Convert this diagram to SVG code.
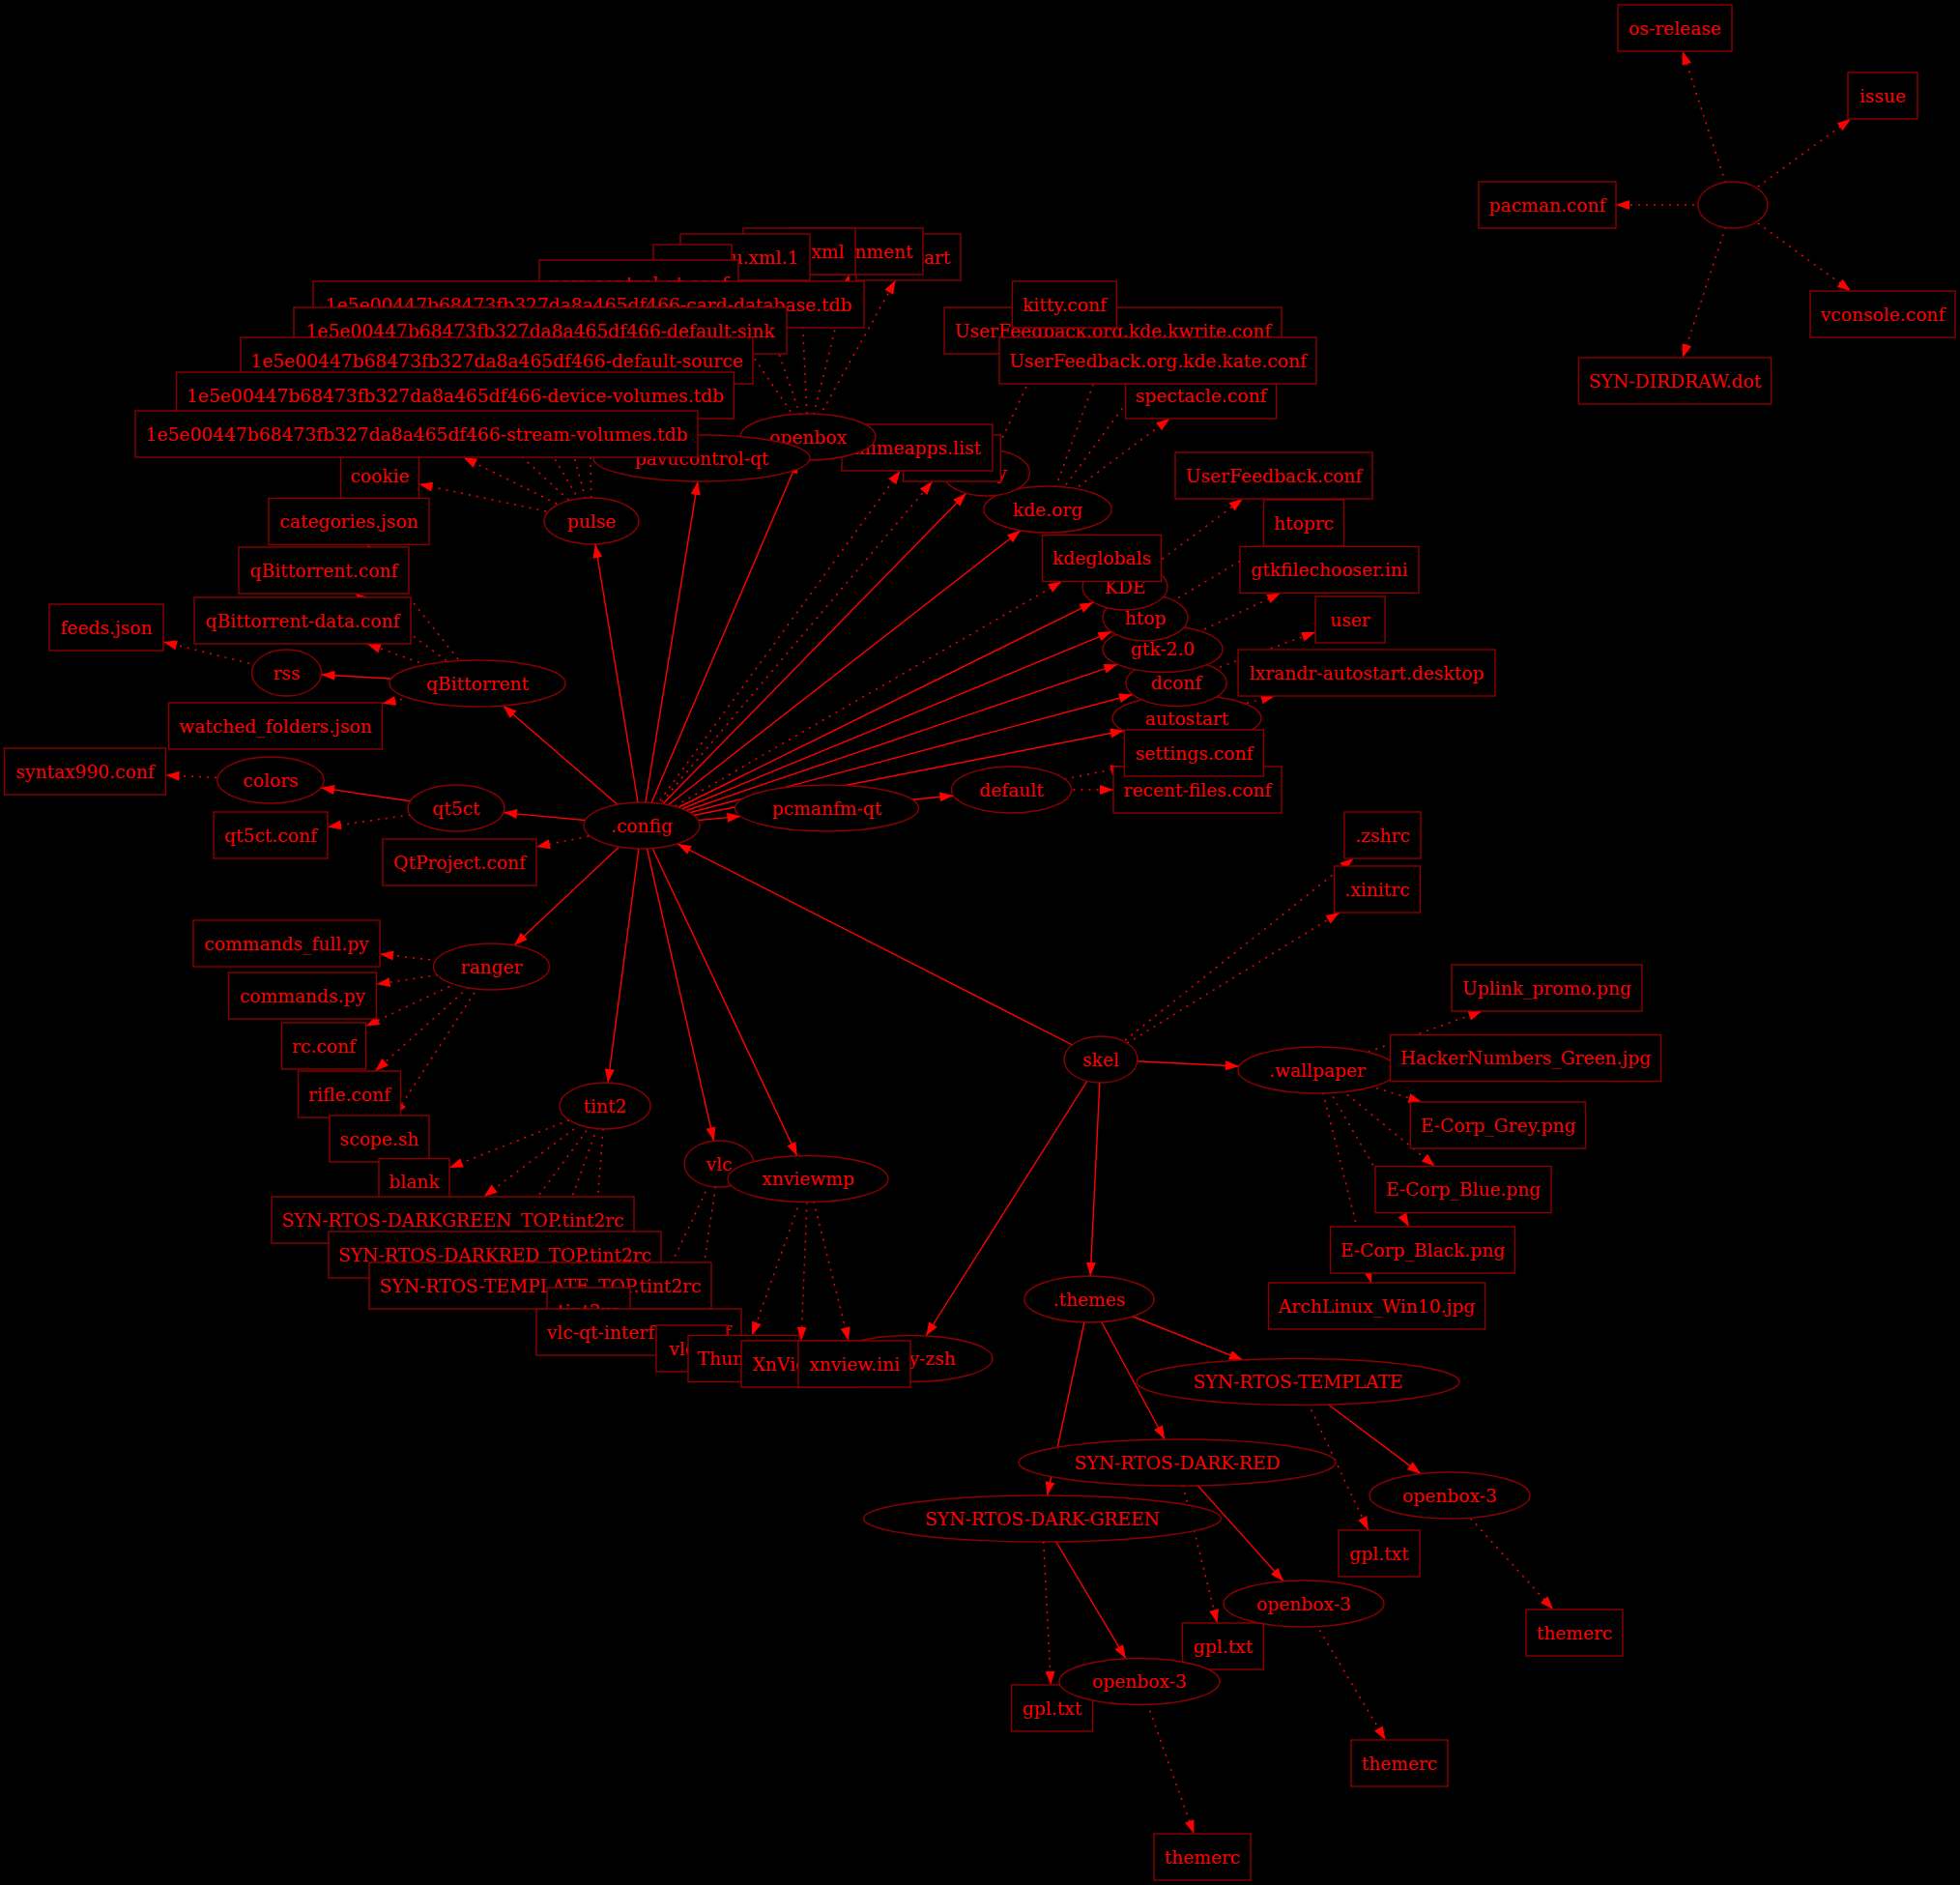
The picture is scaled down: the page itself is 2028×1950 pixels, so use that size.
<svg xmlns="http://www.w3.org/2000/svg" width="2028" height="1950" viewBox="0 0 2028 1950">
<style>
.n{fill:#000;stroke:#8b0000;stroke-width:1.4}
.t{fill:#f00;font-family:"DejaVu Serif",serif;font-size:18.67px;text-anchor:middle}
.e{fill:none;stroke:#f00;stroke-width:1.4;marker-end:url(#ah)}
.d{stroke-dasharray:2 6;stroke-width:1.5}
</style>
<defs>
<marker id="ah" markerUnits="userSpaceOnUse" markerWidth="15" markerHeight="11" refX="14" refY="5" orient="auto" overflow="visible"><path d="M0,0 L14,5 L0,10 z" fill="#f00"/></marker>
</defs>
<rect width="2028" height="1950" fill="#000"/>
<g id="connectors">
<path class="e d" d="M1793,212 L1740.9,53"/>
<path class="e d" d="M1793,212 L1915,123"/>
<path class="e d" d="M1793,212 L1672,212"/>
<path class="e d" d="M1793,212 L1915,301"/>
<path class="e d" d="M1793,212 L1741,370"/>
<path class="e" d="M1139,1096 L701,873"/>
<path class="e d" d="M1139,1096 L1400.4,888"/>
<path class="e d" d="M1139,1096 L1386,944"/>
<path class="e" d="M1139,1096 L1282,1103"/>
<path class="e" d="M1139,1096 L1128.2,1320"/>
<path class="e" d="M1139,1096 L958,1382"/>
<path class="e" d="M664,854 L521,840.6"/>
<path class="e d" d="M664,854 L555,876"/>
<path class="e" d="M664,854 L532,978"/>
<path class="e" d="M664,854 L629,1120"/>
<path class="e" d="M664,854 L738.6,1180.3"/>
<path class="e" d="M664,854 L824.8,1195.7"/>
<path class="e" d="M664,854 L766.5,844.4"/>
<path class="e" d="M664,854 L1163,755.8"/>
<path class="e" d="M664,854 L1172,718.5"/>
<path class="e" d="M664,854 L1156.3,687.3"/>
<path class="e" d="M664,854 L1150.4,653.3"/>
<path class="e" d="M664,854 L1131.4,623.1"/>
<path class="e d" d="M664,854 L1098.7,601.5"/>
<path class="e" d="M664,854 L1056,548.7"/>
<path class="e" d="M664,854 L999.7,510.3"/>
<path class="e d" d="M664,854 L931.5,487"/>
<path class="e d" d="M664,854 L964.7,498"/>
<path class="e" d="M664,854 L825.8,475.7"/>
<path class="e" d="M664,854 L722,498"/>
<path class="e" d="M664,854 L616,563"/>
<path class="e" d="M664,854 L520.5,730"/>
<path class="e d" d="M612,539 L433.5,500.7"/>
<path class="e d" d="M612,539 L479.3,473"/>
<path class="e d" d="M612,539 L497,433"/>
<path class="e d" d="M612,539 L528,397"/>
<path class="e d" d="M612,539 L565.5,366"/>
<path class="e d" d="M612,539 L609.3,339"/>
<path class="e d" d="M836,452 L732.9,301"/>
<path class="e d" d="M836,452 L779.4,290"/>
<path class="e d" d="M836,452 L828.1,284"/>
<path class="e d" d="M836,452 L878.4,284"/>
<path class="e d" d="M836,452 L926.6,290"/>
<path class="e d" d="M726,474 L669.6,317"/>
<path class="e" d="M494,707 L332.4,698"/>
<path class="e d" d="M494,707 L367.6,614"/>
<path class="e d" d="M494,707 L379.8,666"/>
<path class="e d" d="M494,707 L395.5,727.7"/>
<path class="e d" d="M494,707 L380,563.5"/>
<path class="e d" d="M296.5,696 L169,663.9"/>
<path class="e" d="M472,836 L332,814.9"/>
<path class="e d" d="M472,836 L339,855.4"/>
<path class="e d" d="M280,807 L171.5,802"/>
<path class="e d" d="M508.5,1000 L393,987"/>
<path class="e d" d="M508.5,1000 L389.5,1018.3"/>
<path class="e d" d="M508.5,1000 L378.5,1061.4"/>
<path class="e d" d="M508.5,1000 L388.2,1108"/>
<path class="e d" d="M508.5,1000 L408.1,1154"/>
<path class="e d" d="M626,1144 L465,1208"/>
<path class="e d" d="M626,1144 L500.5,1238"/>
<path class="e d" d="M626,1144 L529.8,1274"/>
<path class="e d" d="M626,1144 L567.6,1306"/>
<path class="e d" d="M626,1144 L611,1332"/>
<path class="e d" d="M744,1204 L672.4,1354"/>
<path class="e d" d="M744,1204 L719,1371"/>
<path class="e d" d="M836,1219.5 L778.1,1381.5"/>
<path class="e d" d="M836,1219.5 L829,1387"/>
<path class="e d" d="M836,1219.5 L878,1387"/>
<path class="e" d="M855.5,836 L986.5,823"/>
<path class="e d" d="M1046.5,817 L1163.5,793.5"/>
<path class="e d" d="M1046.5,817 L1152,817"/>
<path class="e d" d="M1228,743 L1319,720"/>
<path class="e d" d="M1217,706.5 L1361,654"/>
<path class="e d" d="M1203,671.5 L1325,613.5"/>
<path class="e d" d="M1185,639 L1308.8,565"/>
<path class="e d" d="M1164,607 L1285.9,516"/>
<path class="e d" d="M1084,527 L1142.7,366"/>
<path class="e d" d="M1084,527 L1180.2,397"/>
<path class="e d" d="M1084,527 L1210.3,433"/>
<path class="e d" d="M1020.5,489 L1090.3,339"/>
<path class="e d" d="M1363,1107 L1533.5,1046"/>
<path class="e d" d="M1363,1107 L1438.5,1102.6"/>
<path class="e d" d="M1363,1107 L1471.3,1140"/>
<path class="e d" d="M1363,1107 L1484.7,1206.5"/>
<path class="e d" d="M1363,1107 L1458,1269"/>
<path class="e d" d="M1363,1107 L1418.5,1327"/>
<path class="e" d="M1127,1344 L1286,1407"/>
<path class="e" d="M1127,1344 L1205.1,1489"/>
<path class="e" d="M1127,1344 L1083.6,1547"/>
<path class="e" d="M1343,1429.5 L1470,1524.6"/>
<path class="e d" d="M1343,1429.5 L1415.7,1583"/>
<path class="e" d="M1218,1513 L1328,1635.8"/>
<path class="e d" d="M1218,1513 L1259.5,1679"/>
<path class="e" d="M1078.5,1571 L1164.9,1715.8"/>
<path class="e d" d="M1078.5,1571 L1087.3,1743"/>
<path class="e d" d="M1500,1547 L1607.2,1665"/>
<path class="e d" d="M1349,1659 L1433.6,1800"/>
<path class="e d" d="M1179,1739.5 L1235.4,1897"/>
</g>
<g id="nodes">
<g id="n-root"><ellipse class="n" cx="1793" cy="212" rx="36" ry="24"/></g>
<g id="n-osrelease"><rect class="n" x="1674" y="5" width="118" height="48"/><text class="t" x="1733" y="35.5">os-release</text></g>
<g id="n-issue"><rect class="n" x="1912" y="75" width="72" height="48"/><text class="t" x="1948" y="105.5">issue</text></g>
<g id="n-pacman"><rect class="n" x="1530" y="188" width="142" height="48"/><text class="t" x="1601" y="218.5">pacman.conf</text></g>
<g id="n-vconsole"><rect class="n" x="1873" y="301" width="150" height="48"/><text class="t" x="1948" y="331.5">vconsole.conf</text></g>
<g id="n-dirdraw"><rect class="n" x="1633.5" y="370" width="199" height="48"/><text class="t" x="1733" y="400.5">SYN-DIRDRAW.dot</text></g>

<g id="n-skel"><ellipse class="n" cx="1139" cy="1096" rx="38" ry="24"/><text class="t" x="1139" y="1102.5">skel</text></g>
<g id="n-config"><ellipse class="n" cx="664" cy="854" rx="60" ry="24"/><text class="t" x="664" y="860.5">.config</text></g>
<g id="n-ohmyzsh"><ellipse class="n" cx="943" cy="1405.5" rx="84" ry="24"/><text class="t" x="938" y="1412">.oh-my-zsh</text></g>
<g id="n-themes"><ellipse class="n" cx="1127" cy="1344" rx="67" ry="24"/><text class="t" x="1127" y="1350.5">.themes</text></g>
<g id="n-wallpaper"><ellipse class="n" cx="1363" cy="1107" rx="82" ry="24"/><text class="t" x="1363" y="1113.5">.wallpaper</text></g>
<g id="n-xinitrc"><rect class="n" x="1380.5" y="896" width="89" height="48"/><text class="t" x="1425" y="926.5">.xinitrc</text></g>
<g id="n-zshrc"><rect class="n" x="1391" y="840" width="79" height="48"/><text class="t" x="1430.5" y="870.5">.zshrc</text></g>

<g id="n-autostart"><ellipse class="n" cx="1228" cy="743" rx="77" ry="24"/><text class="t" x="1228" y="749.5">autostart</text></g>
<g id="n-dconf"><ellipse class="n" cx="1217" cy="706.5" rx="52" ry="24"/><text class="t" x="1217" y="713">dconf</text></g>
<g id="n-gtk2"><ellipse class="n" cx="1203" cy="671.5" rx="62" ry="24"/><text class="t" x="1203" y="678">gtk-2.0</text></g>
<g id="n-htop"><ellipse class="n" cx="1185" cy="639" rx="44" ry="24"/><text class="t" x="1185" y="645.5">htop</text></g>
<g id="n-KDE"><ellipse class="n" cx="1164" cy="607" rx="44" ry="24"/><text class="t" x="1164" y="613.5">KDE</text></g>
<g id="n-kdeglobals"><rect class="n" x="1078.5" y="553.5" width="123" height="48"/><text class="t" x="1140" y="584">kdeglobals</text></g>
<g id="n-kdeorg"><ellipse class="n" cx="1084" cy="527" rx="66" ry="24"/><text class="t" x="1084" y="533.5">kde.org</text></g>
<g id="n-kitty"><ellipse class="n" cx="1020.5" cy="489" rx="45" ry="24"/><text class="t" x="1020.5" y="495.5">kitty</text></g>
<g id="n-hidden"><rect class="n" x="934.5" y="450" width="101" height="48"/></g>
<g id="n-mimeapps"><rect class="n" x="871" y="439" width="156" height="48"/><text class="t" x="949" y="469.5">mimeapps.list</text></g>
<g id="n-openbox"><ellipse class="n" cx="836" cy="452" rx="70" ry="24"/><text class="t" x="836" y="458.5">openbox</text></g>
<g id="n-pavucontrol"><ellipse class="n" cx="726" cy="474" rx="112" ry="24"/><text class="t" x="726" y="480.5">pavucontrol-qt</text></g>
<g id="n-pcmanfm"><ellipse class="n" cx="855.5" cy="836" rx="95" ry="24"/><text class="t" x="855.5" y="842.5">pcmanfm-qt</text></g>
<g id="n-pulse"><ellipse class="n" cx="612" cy="539" rx="49" ry="24"/><text class="t" x="612" y="545.5">pulse</text></g>
<g id="n-qbittorrent"><ellipse class="n" cx="494" cy="707" rx="91" ry="24"/><text class="t" x="494" y="713.5">qBittorrent</text></g>
<g id="n-qt5ct"><ellipse class="n" cx="472" cy="836" rx="50" ry="24"/><text class="t" x="472" y="842.5">qt5ct</text></g>
<g id="n-qtproject"><rect class="n" x="396" y="868" width="159" height="48"/><text class="t" x="475.5" y="898.5">QtProject.conf</text></g>
<g id="n-ranger"><ellipse class="n" cx="508.5" cy="1000" rx="60" ry="24"/><text class="t" x="508.5" y="1006.5">ranger</text></g>
<g id="n-tint2"><ellipse class="n" cx="626" cy="1144" rx="47" ry="24"/><text class="t" x="626" y="1150.5">tint2</text></g>
<g id="n-vlc"><ellipse class="n" cx="744" cy="1204" rx="36" ry="24"/><text class="t" x="744" y="1210.5">vlc</text></g>
<g id="n-xnviewmp"><ellipse class="n" cx="836" cy="1219.5" rx="83" ry="24"/><text class="t" x="836" y="1226">xnviewmp</text></g>

<g id="n-lxrandr"><rect class="n" x="1281" y="672" width="266" height="48"/><text class="t" x="1414" y="702.5">lxrandr-autostart.desktop</text></g>
<g id="n-user"><rect class="n" x="1361" y="617" width="72" height="48"/><text class="t" x="1397" y="647.5">user</text></g>
<g id="n-gtkfc"><rect class="n" x="1283" y="565.5" width="185" height="48"/><text class="t" x="1375.5" y="596">gtkfilechooser.ini</text></g>
<g id="n-htoprc"><rect class="n" x="1307.5" y="517" width="83" height="48"/><text class="t" x="1349" y="547.5">htoprc</text></g>
<g id="n-ufconf"><rect class="n" x="1216" y="468" width="204" height="48"/><text class="t" x="1318" y="498.5">UserFeedback.conf</text></g>
<g id="n-spectacle"><rect class="n" x="1164.5" y="385" width="156" height="48"/><text class="t" x="1242.5" y="415.5">spectacle.conf</text></g>
<g id="n-kwrite"><rect class="n" x="977" y="318" width="349" height="48"/><text class="t" x="1151.5" y="348.5">UserFeedback.org.kde.kwrite.conf</text></g>
<g id="n-kate"><rect class="n" x="1034" y="349" width="328" height="48"/><text class="t" x="1198" y="379.5">UserFeedback.org.kde.kate.conf</text></g>
<g id="n-kittyconf"><rect class="n" x="1047.5" y="291" width="108" height="48"/><text class="t" x="1101.5" y="321.5">kitty.conf</text></g>
<g id="n-obautostart"><rect class="n" x="886" y="242" width="108" height="48"/><text class="t" x="940" y="272.5">autostart</text></g>
<g id="n-environment"><rect class="n" x="814" y="236" width="141" height="48"/><text class="t" x="884.5" y="266.5">environment</text></g>
<g id="n-menuxml"><rect class="n" x="769" y="236" width="116" height="48"/><text class="t" x="827" y="266.5">menu.xml</text></g>
<g id="n-menuxml1"><rect class="n" x="704" y="242" width="134" height="48"/><text class="t" x="771" y="272.5">menu.xml.1</text></g>
<g id="n-rcxml"><rect class="n" x="676" y="253" width="81" height="48"/></g>
<g id="n-pavuconf"><rect class="n" x="558" y="269" width="206" height="48"/><text class="t" x="661" y="299.5">pavucontrol-qt.conf</text></g>
<g id="n-default"><ellipse class="n" cx="1046.5" cy="817" rx="62" ry="24"/><text class="t" x="1046.5" y="823.5">default</text></g>
<g id="n-cookie"><rect class="n" x="352.5" y="468" width="81" height="48"/><text class="t" x="393" y="498.5">cookie</text></g>
<g id="n-cardb"><rect class="n" x="324" y="291" width="570" height="48"/><text class="t" x="609" y="321.5">1e5e00447b68473fb327da8a465df466-card-database.tdb</text></g>
<g id="n-sink"><rect class="n" x="304" y="318" width="510" height="48"/><text class="t" x="559" y="348.5">1e5e00447b68473fb327da8a465df466-default-sink</text></g>
<g id="n-source"><rect class="n" x="249" y="349" width="530" height="48"/><text class="t" x="514" y="379.5">1e5e00447b68473fb327da8a465df466-default-source</text></g>
<g id="n-device"><rect class="n" x="182.5" y="385" width="577" height="48"/><text class="t" x="471" y="415.5">1e5e00447b68473fb327da8a465df466-device-volumes.tdb</text></g>
<g id="n-stream"><rect class="n" x="140" y="425" width="582" height="48"/><text class="t" x="431" y="455.5">1e5e00447b68473fb327da8a465df466-stream-volumes.tdb</text></g>
<g id="n-categories"><rect class="n" x="278" y="515.5" width="166" height="48"/><text class="t" x="361" y="546">categories.json</text></g>
<g id="n-qbconf"><rect class="n" x="247" y="566" width="176" height="48"/><text class="t" x="335" y="596.5">qBittorrent.conf</text></g>
<g id="n-qbdata"><rect class="n" x="201" y="618" width="224" height="48"/><text class="t" x="313" y="648.5">qBittorrent-data.conf</text></g>
<g id="n-rss"><ellipse class="n" cx="296.5" cy="696" rx="36" ry="24"/><text class="t" x="296.5" y="702.5">rss</text></g>
<g id="n-watched"><rect class="n" x="174.5" y="727" width="221" height="48"/><text class="t" x="285" y="757.5">watched_folders.json</text></g>
<g id="n-colors"><ellipse class="n" cx="280" cy="807" rx="55" ry="24"/><text class="t" x="280" y="813.5">colors</text></g>
<g id="n-qt5ctconf"><rect class="n" x="221" y="840" width="118" height="48"/><text class="t" x="280" y="870.5">qt5ct.conf</text></g>
<g id="n-cmdfull"><rect class="n" x="200" y="952" width="193" height="48"/><text class="t" x="296.5" y="982.5">commands_full.py</text></g>
<g id="n-cmdpy"><rect class="n" x="236.5" y="1006" width="153" height="48"/><text class="t" x="313" y="1036.5">commands.py</text></g>
<g id="n-rcconf"><rect class="n" x="291.5" y="1058" width="87" height="48"/><text class="t" x="335" y="1088.5">rc.conf</text></g>
<g id="n-rifle"><rect class="n" x="308.5" y="1108" width="106" height="48"/><text class="t" x="361.5" y="1138.5">rifle.conf</text></g>
<g id="n-scope"><rect class="n" x="341" y="1154" width="103" height="48"/><text class="t" x="392.5" y="1184.5">scope.sh</text></g>
<g id="n-blank"><rect class="n" x="392" y="1198.5" width="73" height="48"/><text class="t" x="428.5" y="1229">blank</text></g>
<g id="n-darkgreenrc"><rect class="n" x="281" y="1238" width="375" height="48"/><text class="t" x="468.5" y="1268.5">SYN-RTOS-DARKGREEN_TOP.tint2rc</text></g>
<g id="n-darkredrc"><rect class="n" x="340" y="1274" width="344" height="48"/><text class="t" x="512" y="1304.5">SYN-RTOS-DARKRED_TOP.tint2rc</text></g>
<g id="n-templaterc"><rect class="n" x="382" y="1306" width="354" height="48"/><text class="t" x="559" y="1336.5">SYN-RTOS-TEMPLATE_TOP.tint2rc</text></g>
<g id="n-tint2rc"><rect class="n" x="566" y="1332" width="86" height="48"/><text class="t" x="609" y="1362.5">tint2rc</text></g>
<g id="n-vlcqt"><rect class="n" x="555" y="1354" width="212" height="48"/><text class="t" x="661" y="1384.5">vlc-qt-interface.conf</text></g>
<g id="n-vlcrc"><rect class="n" x="679" y="1371" width="73" height="48"/><text class="t" x="715.5" y="1401.5">vlcrc</text></g>
<g id="n-thumb"><rect class="n" x="712" y="1381.5" width="115" height="48"/><text class="t" x="769.5" y="1412">Thumb.db</text></g>
<g id="n-xnviewdb"><rect class="n" x="767" y="1387" width="122" height="48"/><text class="t" x="828" y="1417.5">XnView.db</text></g>
<g id="n-xnviewini"><rect class="n" x="826" y="1387" width="116" height="48"/><text class="t" x="884" y="1417.5">xnview.ini</text></g>
<g id="n-recent"><rect class="n" x="1152" y="793" width="174" height="48"/><text class="t" x="1239" y="823.5">recent-files.conf</text></g>
<g id="n-settings"><rect class="n" x="1163.5" y="755" width="144" height="48"/><text class="t" x="1235.5" y="785.5">settings.conf</text></g>
<g id="n-feeds"><rect class="n" x="51" y="625" width="118" height="48"/><text class="t" x="110" y="655.5">feeds.json</text></g>
<g id="n-syntax"><rect class="n" x="4.5" y="774" width="167" height="48"/><text class="t" x="88" y="804.5">syntax990.conf</text></g>

<g id="n-darkgreen"><ellipse class="n" cx="1078.5" cy="1571" rx="185" ry="24"/><text class="t" x="1078.5" y="1577.5">SYN-RTOS-DARK-GREEN</text></g>
<g id="n-darkred"><ellipse class="n" cx="1218" cy="1513" rx="164" ry="24"/><text class="t" x="1218" y="1519.5">SYN-RTOS-DARK-RED</text></g>
<g id="n-template"><ellipse class="n" cx="1343" cy="1429.5" rx="167" ry="24"/><text class="t" x="1343" y="1436">SYN-RTOS-TEMPLATE</text></g>
<g id="n-gplt"><rect class="n" x="1385" y="1583" width="84" height="48"/><text class="t" x="1427" y="1613.5">gpl.txt</text></g>
<g id="n-ob3t"><ellipse class="n" cx="1500" cy="1547" rx="83" ry="24"/><text class="t" x="1500" y="1553.5">openbox-3</text></g>
<g id="n-gplr"><rect class="n" x="1223.5" y="1679" width="84" height="48"/><text class="t" x="1265.5" y="1709.5">gpl.txt</text></g>
<g id="n-ob3r"><ellipse class="n" cx="1349" cy="1659" rx="83" ry="24"/><text class="t" x="1349" y="1665.5">openbox-3</text></g>
<g id="n-gplg"><rect class="n" x="1046.5" y="1743" width="84" height="48"/><text class="t" x="1088.5" y="1773.5">gpl.txt</text></g>
<g id="n-ob3g"><ellipse class="n" cx="1179" cy="1739.5" rx="83" ry="24"/><text class="t" x="1179" y="1746">openbox-3</text></g>
<g id="n-themerct"><rect class="n" x="1579" y="1665" width="100" height="48"/><text class="t" x="1629" y="1695.5">themerc</text></g>
<g id="n-themercr"><rect class="n" x="1398" y="1800" width="100" height="48"/><text class="t" x="1448" y="1830.5">themerc</text></g>
<g id="n-themercg"><rect class="n" x="1194" y="1897" width="100" height="48"/><text class="t" x="1244" y="1927.5">themerc</text></g>

<g id="n-archlinux"><rect class="n" x="1312.5" y="1327" width="224" height="48"/><text class="t" x="1424.5" y="1357.5">ArchLinux_Win10.jpg</text></g>
<g id="n-black"><rect class="n" x="1376.5" y="1269" width="191" height="48"/><text class="t" x="1472" y="1299.5">E-Corp_Black.png</text></g>
<g id="n-blue"><rect class="n" x="1423" y="1206.5" width="182" height="48"/><text class="t" x="1514" y="1237">E-Corp_Blue.png</text></g>
<g id="n-grey"><rect class="n" x="1459.5" y="1140" width="181" height="48"/><text class="t" x="1550" y="1170.5">E-Corp_Grey.png</text></g>
<g id="n-hacker"><rect class="n" x="1438.5" y="1070.5" width="280" height="48"/><text class="t" x="1578.5" y="1101">HackerNumbers_Green.jpg</text></g>
<g id="n-uplink"><rect class="n" x="1502" y="998" width="197" height="48"/><text class="t" x="1600.5" y="1028.5">Uplink_promo.png</text></g>
</g>
</svg>
